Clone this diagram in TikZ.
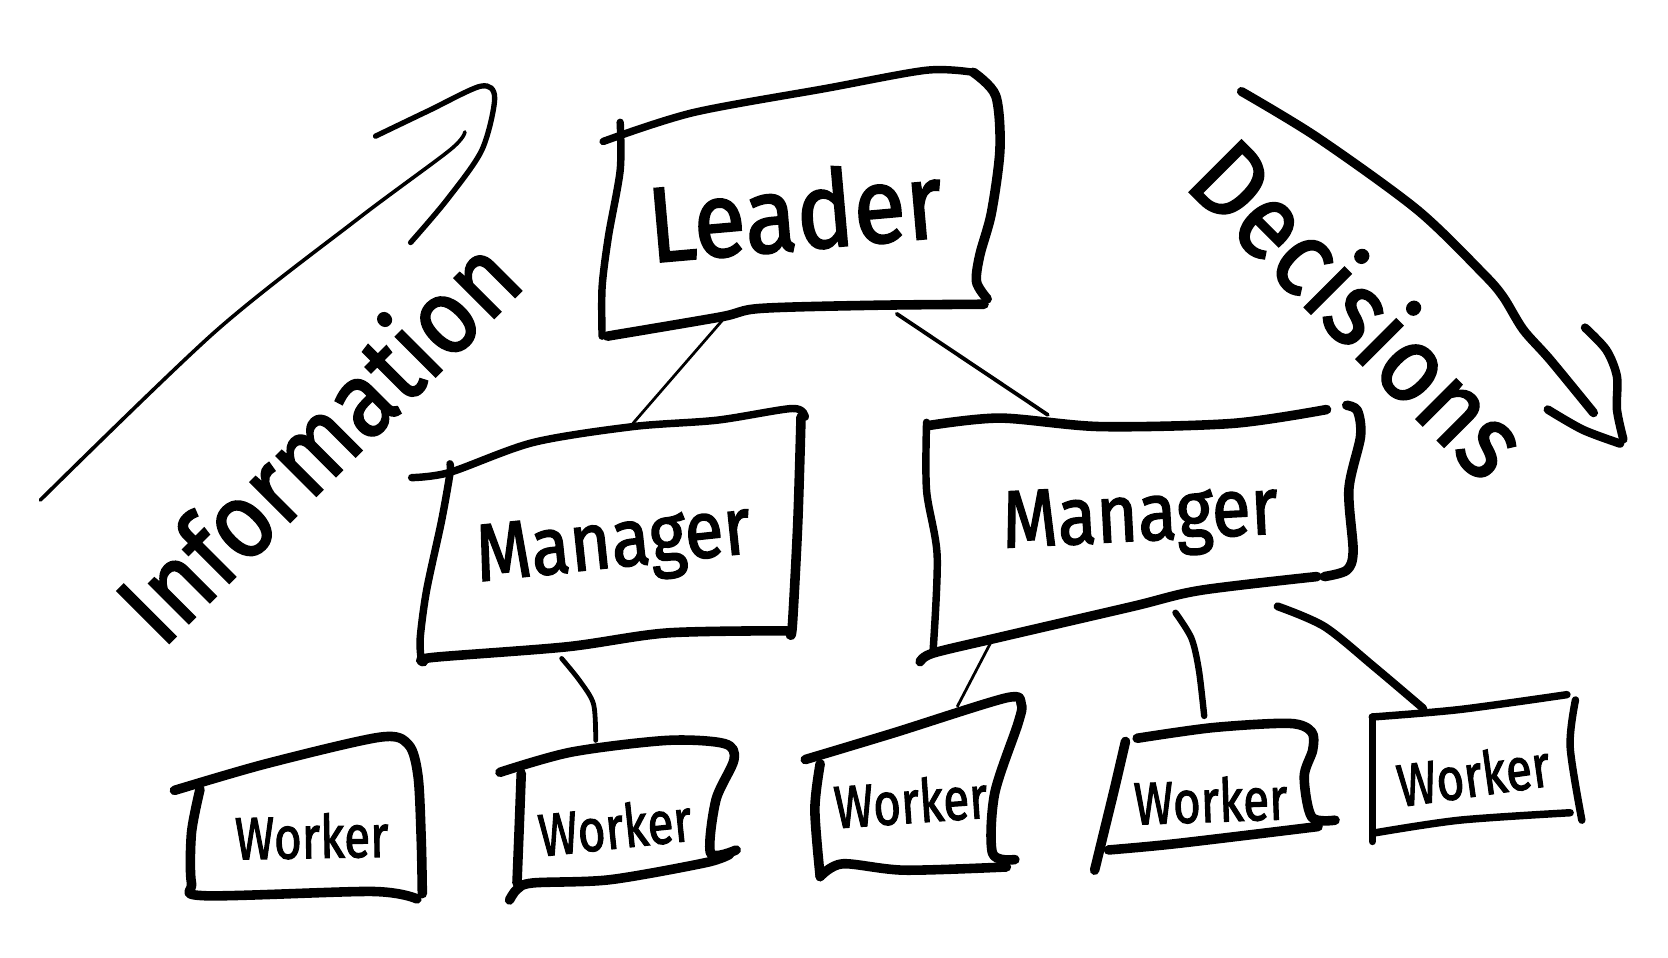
\documentclass[tikz,border=0pt]{standalone}
\usepackage{fontspec}
\setmainfont{Fira Sans}
\newfontfamily\handfont{Fira Sans}[FakeBold=2]
\begin{document}
\begin{tikzpicture}[x=1pt,y=-1pt,
  box/.style={line width=7pt, line cap=round, line join=round},
  boxthick/.style={line width=9pt, line cap=round, line join=round},
  conn/.style={line width=2.6pt, line cap=round},
  connthick/.style={line width=6pt, line cap=round},
  lbl/.style={inner sep=0pt},
  bigfont/.style={font=\handfont\fontsize{100}{100}\selectfont},
  midfont/.style={font=\handfont\fontsize{76}{76}\selectfont},
  smallfont/.style={font=\handfont\fontsize{56}{56}\selectfont}]
\useasboundingbox (0,0) rectangle (1568,900);
\fill[white] (0,0) rectangle (1568,900);

% ---------- text nodes ----------
\node[lbl,bigfont,rotate=5,xscale=0.9] (leader) at (747,198) {Leader};
\node[lbl,midfont,rotate=6,xscale=0.88] (ml) at (577,515) {Manager};
\node[lbl,midfont,rotate=3,xscale=0.88] (mr) at (1072,490) {Manager};
\node[lbl,smallfont,rotate=1,xscale=0.8] (w1) at (293,786) {Worker};
\node[lbl,smallfont,rotate=6,xscale=0.8] (w2) at (578,777) {Worker};
\node[lbl,smallfont,rotate=4,xscale=0.8] (w3) at (856,753) {Worker};
\node[lbl,smallfont,rotate=2,xscale=0.8] (w4) at (1138,752) {Worker};
\node[lbl,smallfont,rotate=8,xscale=0.8] (w5) at (1385,728) {Worker};
\node[lbl,bigfont,rotate=45,xscale=0.9] (info) at (297,412) {Information};
\node[lbl,bigfont,rotate=-45,xscale=0.92] (dec) at (1280,288) {Decisions};

% ---------- Leader box ----------
\draw[box] plot[smooth] coordinates {(567,133) (651,106) (777,83) (871,66) (915,68)};
\draw[boxthick] plot[smooth] coordinates {(915,68) (936,90) (940,140) (932,200) (921,240) (918,265) (928,281)};
\draw[boxthick] plot[smooth] coordinates {(925,286) (820,287) (714,290) (677,298) (571,316)};
\draw[box] plot[smooth] coordinates {(566,316) (566,270) (572,222) (583,160) (583,115)};

% ---------- Manager left ----------
\draw[box] plot[smooth] coordinates {(387,449) (423,444) (501,416) (595,401) (674,395) (745,384) (757,392)};
\draw[boxthick] plot[smooth] coordinates {(753,392) (750,490) (745,586) (743,597)};
\draw[boxthick] plot[smooth] coordinates {(740,593) (627,595) (533,608) (407,618) (398,622)};
\draw[box] plot[smooth] coordinates {(396,620) (395,600) (401,555) (415,490) (423,445) (423,436)};

% ---------- Manager right ----------
\draw[boxthick] plot[smooth] coordinates {(873,400) (940,393) (1034,401) (1159,398) (1247,385)};
\draw[boxthick] plot[smooth] coordinates {(1266,381) (1276,386) (1279,410) (1268,460) (1272,518) (1266,536) (1245,542)};
\draw[boxthick] plot[smooth] coordinates {(1238,542) (1128,555) (1065,570) (940,599) (877,614) (865,622)};
\draw[box] plot[smooth] coordinates {(877,614) (881,523) (871,461) (871,397)};

% ---------- Workers ----------
\draw[boxthick] plot[smooth] coordinates {(164,743) (250,718) (357,693) (384,700) (393,730) (396,790) (397,840)};
\draw[boxthick] plot[smooth] coordinates {(392,845) (350,838) (192,842) (180,830) (180,783) (188,742)};

\draw[boxthick] plot[smooth] coordinates {(470,726) (537,707) (627,696) (681,699) (690,714) (673,752) (668,802) (692,799)};
\draw[boxthick] plot[smooth] coordinates {(686,803) (663,811) (573,827) (501,830) (486,836) (479,846)};
\draw[boxthick] plot[smooth] coordinates {(486,830) (488,780) (490,727)};

\draw[boxthick] plot[smooth] coordinates {(757,714) (840,689) (946,656) (960,662) (957,680) (935,746) (933,802) (954,808)};
\draw[boxthick] plot[smooth] coordinates {(946,815) (850,818) (792,812) (771,824)};
\draw[boxthick] plot[smooth] coordinates {(771,824) (766,761) (771,718)};

\draw[boxthick] plot[smooth] coordinates {(1058,697) (1048,740) (1039,777) (1029,818)};
\draw[boxthick] plot[smooth] coordinates {(1069,694) (1140,684) (1212,680) (1233,688) (1234,705) (1226,730) (1233,768) (1255,771)};
\draw[boxthick] plot[smooth] coordinates {(1239,777) (1106,793) (1042,799)};

\draw[box] plot[smooth] coordinates {(1290,674) (1290,730) (1290,791)};
\draw[box] plot[smooth] coordinates {(1290,674) (1372,667) (1473,653)};
\draw[box] plot[smooth] coordinates {(1481,658) (1476,702) (1487,771)};
\draw[box] plot[smooth] coordinates {(1476,764) (1372,771) (1292,783)};

% ---------- connectors ----------
\coordinate (lA) at (680,300); \coordinate (mlT) at (595,398);
\coordinate (lB) at (843,295); \coordinate (mrT) at (985,390);
\draw[conn] (lA) -- (mlT);
\draw[line width=3.6pt,line cap=round] (lB) -- (mrT);
\coordinate (mlB) at (528,619); \coordinate (w2T) at (560,696);
\draw[line width=4.5pt,line cap=round] plot[smooth] coordinates {(mlB) (545,640) (558,662) (w2T)};
\coordinate (mrB1) at (935,597); \coordinate (w3T) at (900,664);
\draw[conn] (mrB1) -- (w3T);
\coordinate (mrB2) at (1105,576); \coordinate (w4T) at (1132,673);
\draw[connthick] plot[smooth] coordinates {(mrB2) (1120,600) (1127,630) (w4T)};
\coordinate (mrB3) at (1201,570); \coordinate (w5T) at (1338,666);
\draw[line width=7.5pt,line cap=round] plot[smooth] coordinates {(mrB3) (1245,589) (1292,627) (w5T)};

% ---------- Information arrow ----------
\coordinate (iS) at (38,470); \coordinate (iE) at (437,124);
\draw[line width=3.4pt,line cap=round] plot[smooth] coordinates {(iS) (202,312) (336,206) (423,141) (iE)};
\draw[line width=5pt,line cap=round] plot[smooth] coordinates {(353,128) (403,104) (452,81) (465,92) (453,141) (420,188) (386,228)};

% ---------- Decisions arrow ----------
\coordinate (dS) at (1167,86); \coordinate (dE) at (1498,388);
\draw[line width=8.5pt,line cap=round] plot[smooth] coordinates {(dS) (1238,129) (1332,197) (1394,257) (1413,279) (1432,310) (1457,338) (dE)};
\draw[line width=8pt,line cap=round] plot[smooth] coordinates {(1490,308) (1510,329) (1520,354) (1520,385) (1526,413)};
\draw[line width=8pt,line cap=round] plot[smooth] coordinates {(1455,385) (1488,404) (1523,417)};
\end{tikzpicture}
\end{document}
